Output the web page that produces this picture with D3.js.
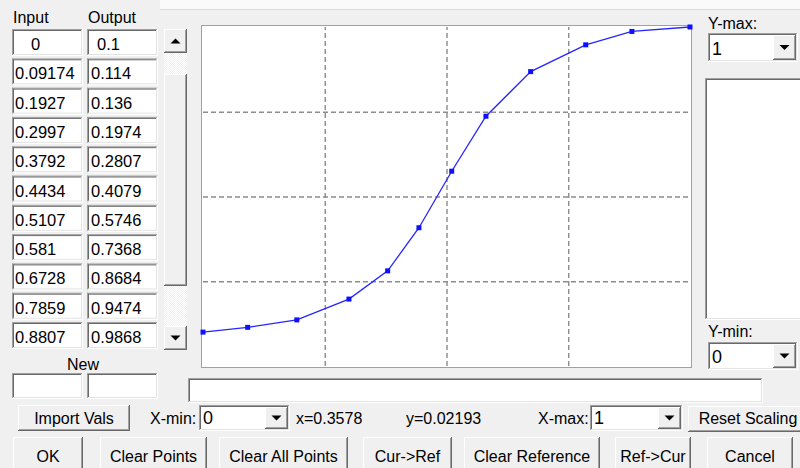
<!DOCTYPE html>
<html><head><meta charset="utf-8">
<script src="https://cdn.jsdelivr.net/npm/d3@7"></script>
<style>
html,body{margin:0;padding:0;background:#f0f0f0;overflow:hidden}
svg{display:block}
text{font-family:"Liberation Sans",Arial,sans-serif;font-size:16px;fill:#000}
</style></head>
<body>
<svg id="c" width="800" height="468"></svg>
<script>
// ---- data ----
const inputs  = [0, 0.09174, 0.1927, 0.2997, 0.3792, 0.4434, 0.5107, 0.581, 0.6728, 0.7859, 0.8807, 1];
const outputs = [0.1, 0.114, 0.136, 0.1974, 0.2807, 0.4079, 0.5746, 0.7368, 0.8684, 0.9474, 0.9868, 1];
const inputLabels  = ["0","0.09174","0.1927","0.2997","0.3792","0.4434","0.5107","0.581","0.6728","0.7859","0.8807"];
const outputLabels = ["0.1","0.114","0.136","0.1974","0.2807","0.4079","0.5746","0.7368","0.8684","0.9474","0.9868"];
const xGrid = [0.25, 0.5, 0.75];
const yGrid = [0.25, 0.5, 0.75];
const xDomain = [0, 1];
const yDomain = [0, 1];
const yMaxText = "1", yMinText = "0", xMinText = "0", xMaxText = "1";
const cursorX = "x=0.3578", cursorY = "y=0.02193";
const row1Buttons = ["Import Vals", "Reset Scaling"];
const row2Buttons = ["OK", "Clear Points", "Clear All Points", "Cur->Ref", "Clear Reference", "Ref->Cur", "Cancel"];

const svg = d3.select("#c");

function line(g, x1, y1, x2, y2, c){ g.append("line").attr("x1",x1).attr("y1",y1).attr("x2",x2).attr("y2",y2).attr("stroke",c).attr("stroke-width",1); }
function sunken(g, x, y, w, h, fill){
  g.append("rect").attr("x",x).attr("y",y).attr("width",w).attr("height",h).attr("fill",fill||"#fff");
  line(g, x+0.5, y, x+0.5, y+h, "#a0a0a0"); line(g, x, y+0.5, x+w, y+0.5, "#a0a0a0");
  line(g, x+1.5, y+1, x+1.5, y+h-1, "#696969"); line(g, x+1, y+1.5, x+w-1, y+1.5, "#696969");
  line(g, x+w-0.5, y, x+w-0.5, y+h, "#ffffff"); line(g, x, y+h-0.5, x+w, y+h-0.5, "#ffffff");
  line(g, x+w-1.5, y+1, x+w-1.5, y+h-1, "#e3e3e3"); line(g, x+1, y+h-1.5, x+w-1, y+h-1.5, "#e3e3e3");
}
function raised(g, x, y, w, h){
  g.append("rect").attr("x",x).attr("y",y).attr("width",w).attr("height",h).attr("fill","#f0f0f0");
  line(g, x+0.5, y, x+0.5, y+h, "#ffffff"); line(g, x, y+0.5, x+w, y+0.5, "#ffffff");
  line(g, x+w-0.5, y, x+w-0.5, y+h, "#696969"); line(g, x, y+h-0.5, x+w, y+h-0.5, "#696969");
  line(g, x+w-1.5, y+1, x+w-1.5, y+h-1, "#a0a0a0"); line(g, x+1, y+h-1.5, x+w-1, y+h-1.5, "#a0a0a0");
}
function tri(g, cx, cy, up){
  const p = up ? [[cx-5,cy+2.5],[cx+5,cy+2.5],[cx,cy-2.5]] : [[cx-5,cy-2.5],[cx+5,cy-2.5],[cx,cy+2.5]];
  g.append("path").attr("d", d3.line()(p)+"Z").attr("fill","#000");
}
function txt(g, x, y, s, anchor, size){
  g.append("text").attr("x",x).attr("y",y).attr("text-anchor",anchor||"start").style("font-size",(size||16)+"px").text(s);
}
function combo(g, x, y, w, h, val, size){
  sunken(g, x, y, w, h, "#fff");
  raised(g, x+w-25, y+2, 23, h-4);
  tri(g, x+w-13.5, y+h/2, false);
  txt(g, x+4, y+h-7, val, "start", size||18);
}

const ui = svg.append("g");

// top strip
ui.append("rect").attr("x",160).attr("y",0).attr("width",640).attr("height",9).attr("fill","#fafafa");
line(ui, 160, 9.5, 800, 9.5, "#dadada");

// table headers
txt(ui, 13, 23, "Input");
txt(ui, 88, 23, "Output");

// table rows
const rowTop = i => 29 + i*29.3;
inputLabels.forEach((s,i)=>{
  const y = rowTop(i);
  sunken(ui, 12, y, 71, 27, "#fff");
  sunken(ui, 87, y, 71, 27, "#fff");
  txt(ui, i===0?31:15, y+21, s, "start", 16.5);
  txt(ui, i===0?97:91, y+21, outputLabels[i], "start", 16.5);
});

// scrollbar
const pat = svg.append("defs").append("pattern").attr("id","hatch").attr("width",2).attr("height",2).attr("patternUnits","userSpaceOnUse");
pat.append("rect").attr("width",2).attr("height",2).attr("fill","#f0f0f0");
pat.append("rect").attr("width",1).attr("height",1).attr("fill","#ffffff");
pat.append("rect").attr("x",1).attr("y",1).attr("width",1).attr("height",1).attr("fill","#ffffff");
ui.append("rect").attr("x",164).attr("y",53).attr("width",23).attr("height",273).attr("fill","url(#hatch)");
raised(ui, 164, 29, 23, 24); tri(ui, 175.5, 41, true);
raised(ui, 164, 74, 23, 212);
raised(ui, 164, 326, 23, 24); tri(ui, 175.5, 338, false);

// New
txt(ui, 83, 370, "New", "middle");
sunken(ui, 12, 373, 71, 26, "#fff");
sunken(ui, 87, 373, 71, 26, "#fff");

// status box
sunken(ui, 188, 378, 575, 25, "#fff");

// right panel
txt(ui, 708, 29, "Y-max:");
combo(ui, 708, 33, 90, 29, yMaxText);
sunken(ui, 705, 78, 100, 242, "#fff");
txt(ui, 708, 337, "Y-min:");
combo(ui, 708, 342, 90, 28, yMinText);

// row 1 controls
raised(ui, 18, 405, 112, 26); txt(ui, 74, 424, row1Buttons[0], "middle");
txt(ui, 150, 424, "X-min:");
combo(ui, 199, 405, 91, 26, xMinText);
txt(ui, 296, 424, cursorX);
txt(ui, 406, 424, cursorY);
txt(ui, 538, 424, "X-max:");
combo(ui, 590, 405, 93, 26, xMaxText);
raised(ui, 688, 406, 115, 26); txt(ui, 748, 424, row1Buttons[1], "middle");

// row 2 buttons
const b2x = [13, 100, 219, 363, 464, 615, 707];
const b2w = [70, 107, 129, 89, 136, 76, 86];
row2Buttons.forEach((s,i)=>{
  raised(ui, b2x[i], 437, b2w[i], 40);
  txt(ui, b2x[i]+b2w[i]/2, 462, s, "middle");
});

// ---- plot ----
const P = {l:203, r:690, t:27, b:366};
ui.append("rect").attr("x",P.l-1).attr("y",P.t-1).attr("width",P.r-P.l+2).attr("height",P.b-P.t+2).attr("fill","#fff");
const x = d3.scaleLinear().domain(xDomain).range([P.l, P.r]);
const y = d3.scaleLinear().domain(yDomain).range([P.b, P.t]);

const gx = svg.append("g").attr("transform",`translate(0,${P.b})`)
  .call(d3.axisBottom(x).tickValues(xGrid).tickSize(-(P.b-P.t)).tickFormat(""));
const gy = svg.append("g").attr("transform",`translate(${P.l},0)`)
  .call(d3.axisLeft(y).tickValues(yGrid).tickSize(-(P.r-P.l)).tickFormat(""));
[gx,gy].forEach(g=>{
  g.select(".domain").remove();
  g.selectAll(".tick line").attr("stroke","#8c8c8c").attr("stroke-dasharray","5,3").attr("stroke-width",1.4);
});

// frame
line(svg, P.l-1.5, P.t-2, P.l-1.5, P.b+2, "#a0a0a0");
line(svg, P.l-2, P.t-1.5, P.r+2, P.t-1.5, "#a0a0a0");
line(svg, P.r+1.5, P.t-2, P.r+1.5, P.b+2, "#a0a0a0");
line(svg, P.l-2, P.b+1.5, P.r+2, P.b+1.5, "#a0a0a0");

const pts = inputs.map((v,i)=>[v, outputs[i]]);
svg.append("path").datum(pts)
  .attr("d", d3.line().x(d=>x(d[0])).y(d=>y(d[1])))
  .attr("fill","none").attr("stroke","#2626ff").attr("stroke-width",1.3);
svg.selectAll("rect.pt").data(pts).enter().append("rect").attr("class","pt")
  .attr("x", d=>x(d[0])-2.5).attr("y", d=>y(d[1])-2.5)
  .attr("width",5).attr("height",5).attr("fill","#1010ff");
</script>
</body></html>
